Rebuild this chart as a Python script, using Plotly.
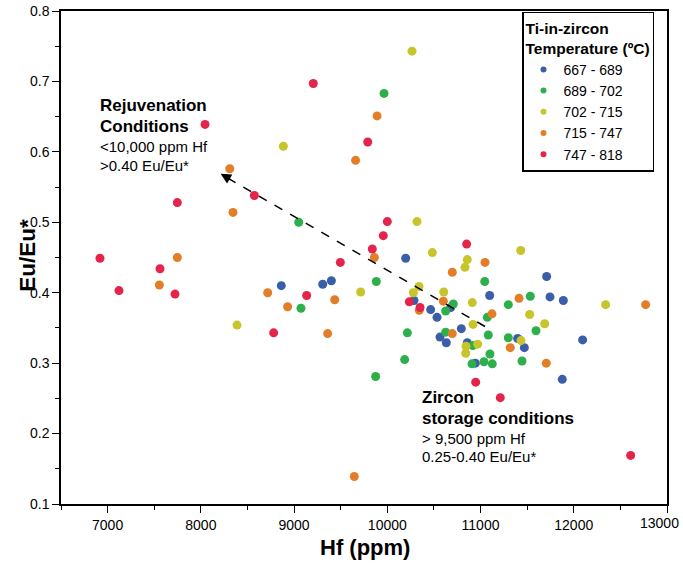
import plotly.graph_objects as go

# ---- data (Hf ppm, Eu/Eu*) by Ti-in-zircon temperature class ----
labels = ["667 - 689", "689 - 702", "702 - 715", "715 - 747", "747 - 818"]
colors = ["#3B5EA8", "#2DB04B", "#C8C42B", "#E47D28", "#E4244A"]

hf_667_689 = [8863, 9307, 9400, 10197, 11709, 10286, 10680, 10465, 10533, 10794, 10565,
              10633, 10858, 10944, 11098, 11745, 11888, 11398, 11470, 12095, 11877]
eu_667_689 = [0.410, 0.412, 0.417, 0.449, 0.423, 0.389, 0.379, 0.376, 0.365, 0.349, 0.337,
              0.329, 0.329, 0.300, 0.396, 0.394, 0.389, 0.335, 0.322, 0.333, 0.277]

hf_689_702 = [9965, 9050, 9882, 9074, 9875, 11045, 10708, 10626, 11073, 10626, 10215, 10186,
              11083, 10916, 11101, 10908, 11037, 11126, 11298, 11534, 11595, 11298, 11445]
eu_689_702 = [0.683, 0.500, 0.416, 0.378, 0.281, 0.416, 0.384, 0.374, 0.365, 0.344, 0.343, 0.305,
              0.340, 0.325, 0.313, 0.299, 0.302, 0.299, 0.383, 0.395, 0.346, 0.336, 0.303]

hf_702_715 = [10265, 8885, 10318, 9714, 8388, 10483, 10858, 10833, 11431, 10340, 10279,
              10605, 10912, 10919, 10844, 10969, 10841, 11527, 11688, 11434, 12342]
eu_702_715 = [0.743, 0.608, 0.501, 0.401, 0.354, 0.457, 0.447, 0.436, 0.460, 0.409, 0.400,
              0.401, 0.386, 0.355, 0.324, 0.327, 0.314, 0.369, 0.356, 0.332, 0.383]

hf_715_747 = [9890, 9660, 8310, 8345, 7748, 9861, 7555, 8717, 9436, 8931, 9360, 10697,
              11048, 10343, 10601, 11123, 10697, 11413, 11319, 11705, 12771, 9646]
eu_715_747 = [0.651, 0.588, 0.576, 0.514, 0.450, 0.450, 0.411, 0.400, 0.390, 0.380, 0.342, 0.429,
              0.443, 0.375, 0.388, 0.370, 0.342, 0.392, 0.322, 0.300, 0.383, 0.139]

hf_747_818 = [9206, 8045, 9790, 8574, 10000, 9957, 7748, 6918, 9839, 9496, 7562, 7122, 7723,
              9135, 8781, 10851, 10236, 10351, 10948, 11212, 12610]
eu_747_818 = [0.697, 0.639, 0.614, 0.538, 0.501, 0.481, 0.528, 0.449, 0.462, 0.443, 0.434, 0.403,
              0.398, 0.396, 0.343, 0.469, 0.387, 0.379, 0.273, 0.251, 0.169]

hf_groups = [hf_667_689, hf_689_702, hf_702_715, hf_715_747, hf_747_818]
eu_groups = [eu_667_689, eu_689_702, eu_702_715, eu_715_747, eu_747_818]

x_tickvals = [7000, 8000, 9000, 10000, 11000, 12000, 13000]
x_ticktext = ["7000", "8000", "9000", "10000", "11000", "12000", "13000"]

# trend arrow (tail -> head) in data units
arrow_tail = (11048, 0.352)
arrow_head = (8212, 0.569)

FONT = "Arial, 'Liberation Sans', sans-serif"

fig = go.Figure()
for hf, eu, col in zip(hf_groups, eu_groups, colors):
    fig.add_trace(go.Scatter(x=hf, y=eu, mode="markers", showlegend=False,
                             marker=dict(size=9, color=col, line=dict(width=0))))
# legend entries with small markers
for lab, col in zip(labels, colors):
    fig.add_trace(go.Scatter(x=[None], y=[None], mode="markers", name=lab,
                             marker=dict(size=6, color=col)))

# dashed trend line + arrow head
fig.add_shape(type="line", xref="x", yref="y",
              x0=arrow_tail[0], y0=arrow_tail[1], x1=arrow_head[0] + 60, y1=arrow_head[1] - 0.005,
              line=dict(color="black", width=1.5, dash="dash"))
fig.add_annotation(x=arrow_head[0], y=arrow_head[1], xref="x", yref="y", text="",
                   showarrow=True, arrowhead=2, arrowsize=1.4, arrowwidth=1.5,
                   arrowcolor="black", ax=11, ay=6.4, standoff=0)

# page pixel -> paper coords (plot area spans x 61..667, y 11..504.5 on the page)
H = 504.5 - 11
def py(px):
    return (504.5 - px) / H
def pxx(px):
    return (px - 61) / 606

def block(xp, ys, lines, sizes, bolds):
    for y, t, s, b in zip(ys, lines, sizes, bolds):
        fig.add_annotation(x=xp, y=y, xref="paper", yref="paper", xanchor="left",
                           yanchor="middle", showarrow=False, borderpad=0,
                           text=("<b>%s</b>" % t) if b else t,
                           font=dict(family=FONT, size=s, color="black"))

block(pxx(99), [py(106), py(127), py(147), py(166)],
      ["Rejuvenation", "Conditions", "<10,000 ppm Hf", ">0.40 Eu/Eu*"],
      [17, 17, 15, 15], [True, True, False, False])
block(pxx(421), [py(398), py(419), py(438.5), py(456.5)],
      ["Zircon", "storage conditions", "> 9,500 ppm Hf", "0.25-0.40 Eu/Eu*"],
      [17, 17, 15, 15], [True, True, False, False])

# axis titles
fig.add_annotation(x=pxx(365), y=py(548), xref="paper", yref="paper", showarrow=False,
                   xanchor="center", yanchor="middle",
                   text="<b>Hf (ppm)</b>", font=dict(family=FONT, size=22, color="black"))
fig.add_annotation(x=pxx(28), y=py(256), xref="paper", yref="paper", showarrow=False,
                   xanchor="center", yanchor="middle",
                   textangle=-90, text="<b>Eu/Eu*</b>",
                   font=dict(family=FONT, size=22.5, color="black"))
# last x tick label is nudged inward (as in the reference) so it stays inside the page
fig.add_annotation(x=x_tickvals[-1], y=py(524), xref="x", yref="paper", showarrow=False,
                   xanchor="center", yanchor="middle", xshift=-8,
                   text=x_ticktext[-1], font=dict(family=FONT, size=14, color="black"))

axis_common = dict(showline=True, linecolor="black", linewidth=1.5, mirror=True,
                   ticks="outside", ticklen=7, tickwidth=1.3, tickcolor="black",
                   showgrid=False, zeroline=False, automargin=False,
                   tickfont=dict(family=FONT, size=14, color="black"))

fig.update_xaxes(range=[6500, 13000], tickvals=x_tickvals,
                 ticktext=x_ticktext[:-1] + [""],
                 minor=dict(dtick=500, tick0=0, ticks="outside", ticklen=4,
                            tickcolor="black", tickwidth=1.2),
                 **axis_common)
fig.update_yaxes(range=[0.1, 0.8], dtick=0.1, tick0=0, tickformat=".1f",
                 minor=dict(dtick=0.05, ticks="outside", ticklen=4, tickcolor="black", tickwidth=1.2),
                 **axis_common)

fig.update_layout(
    width=683, height=565,
    margin=dict(l=61, r=16, t=11, b=60.5),
    plot_bgcolor="white", paper_bgcolor="white",
    font=dict(family=FONT, color="black"),
    legend=dict(x=pxx(522), y=py(12), xanchor="left", yanchor="top",
                bgcolor="white", bordercolor="black", borderwidth=1.5,
                font=dict(family=FONT, size=14, color="black"),
                title=dict(text="<b>Ti-in-zircon<br>Temperature (ºC)</b>",
                           font=dict(family=FONT, size=15.5, color="black")),
                itemsizing="trace", tracegroupgap=0),
)

# remove the default 8px page margin so the figure sits at the window's top-left corner
fig.write_html("out.html", config={"displayModeBar": False},
               post_script="document.body.style.margin='0';document.body.style.overflow='hidden';")
